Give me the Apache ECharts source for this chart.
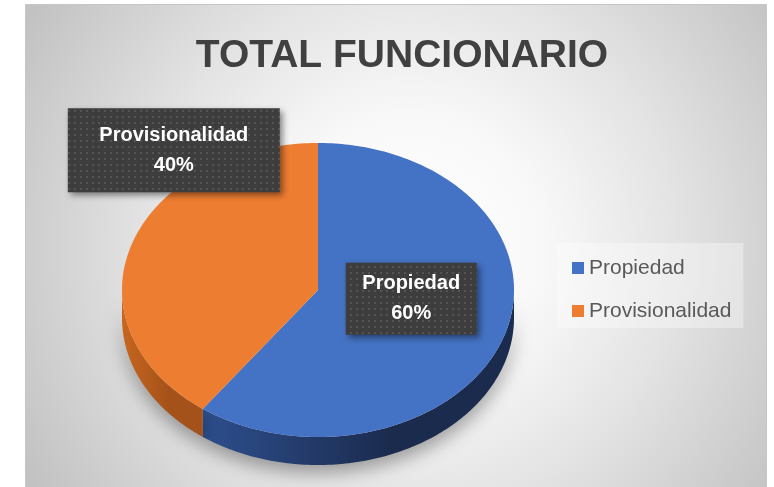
<!DOCTYPE html>
<html>
<head>
<meta charset="utf-8">
<script src="https://cdn.jsdelivr.net/npm/echarts@6/dist/echarts.min.js"></script>
<style>
html, body { margin: 0; padding: 0; background: #fff; }
#chart { width: 774px; height: 487px; }
</style>
</head>
<body>
<div id="chart"></div>
<script>
// datos
const categories = ['Propiedad', 'Provisionalidad'];
const values = [60, 40];

// estilo
const topColors = ['#4472C4', '#ED7D31'];
const sideColors = [['#2d4f8e', '#1b2b4e'], ['#c7661f', '#a4511a']];
const labelOffsets = [[0, -14], [-51, -117]];   // etiquetas movidas como en Excel
const labelBoxes = [[131, 72], [212, 84]];
const PIE = { cx: 318, cy: 290, rx: 196, ry: 147, depth: 28 };

const total = values.reduce((a, b) => a + b, 0);

function sliceAngles(i) {
    const before = values.slice(0, i).reduce((a, b) => a + b, 0);
    const a0 = -90 + before / total * 360;
    return [a0, a0 + values[i] / total * 360];
}

function pt(a, dy, f) {
    const r = a * Math.PI / 180;
    f = f == null ? 1 : f;
    return [PIE.cx + PIE.rx * f * Math.cos(r), PIE.cy + PIE.ry * f * Math.sin(r) + dy];
}

function arc(a0, a1, dy) {
    const n = Math.max(2, Math.ceil(Math.abs(a1 - a0)));
    const pts = [];
    for (let k = 0; k <= n; k++) pts.push(pt(a0 + (a1 - a0) * k / n, dy));
    return pts;
}

// patron punteado de las etiquetas
const pat = document.createElement('canvas');
pat.width = 6; pat.height = 6;
const pctx = pat.getContext('2d');
pctx.fillStyle = '#3d3d3d';
pctx.fillRect(0, 0, 6, 6);
pctx.fillStyle = '#545454';
pctx.fillRect(2, 2, 2, 2);

function renderSlice(i) {
    return function (params, api) {
        const [a0, a1] = sliceAngles(i);
        const kids = [];
        // lateral (solo la parte de delante)
        const s0 = Math.max(a0, 0), s1 = Math.min(a1, 180);
        if (s1 > s0) {
            const pts = arc(s0, s1, 0).concat(arc(s1, s0, PIE.depth));
            kids.push({
                type: 'polygon',
                z2: 1,
                shape: { points: pts },
                style: {
                    fill: {
                        type: 'linear', x: 0, y: 0, x2: 1, y2: 0,
                        colorStops: [
                            { offset: 0, color: sideColors[i][0] },
                            { offset: 0.6, color: sideColors[i][1] },
                            { offset: 1, color: sideColors[i][1] }
                        ]
                    },
                    shadowBlur: 18,
                    shadowOffsetY: 8,
                    shadowColor: 'rgba(0,0,0,0.35)'
                }
            });
        }
        // cara de arriba
        kids.push({
            type: 'polygon',
            z2: 10,
            shape: { points: [[PIE.cx, PIE.cy]].concat(arc(a0, a1, 0)) },
            style: { fill: topColors[i] }
        });
        // etiqueta
        const anchor = pt((a0 + a1) / 2, 0, 0.5);
        const lx = anchor[0] + labelOffsets[i][0];
        const ly = anchor[1] + labelOffsets[i][1];
        const w = labelBoxes[i][0], h = labelBoxes[i][1];
        kids.push({
            type: 'rect',
            z2: 20,
            shape: { x: lx - w / 2, y: ly - h / 2, width: w, height: h },
            style: {
                fill: { image: pat, repeat: 'repeat' },
                shadowBlur: 6,
                shadowOffsetX: 3,
                shadowOffsetY: 3,
                shadowColor: 'rgba(0,0,0,0.45)'
            }
        });
        kids.push({
            type: 'text',
            z2: 21,
            style: {
                text: categories[i] + '\n' + Math.round(values[i] / total * 100) + '%',
                x: lx,
                y: ly,
                align: 'center',
                verticalAlign: 'middle',
                fill: '#ffffff',
                font: 'bold 20px "Liberation Sans"',
                lineHeight: 30
            }
        });
        return { type: 'group', children: kids };
    };
}

const chart = echarts.init(document.getElementById('chart'));

const option = {
    animation: false,
    backgroundColor: '#ffffff',
    graphic: [{
        type: 'rect',
        silent: true,
        z: -1,
        shape: { x: 25.5, y: 4.5, width: 741, height: 483 },
        style: {
            fill: {
                type: 'radial', x: 0.52, y: 0.5, r: 0.92,
                colorStops: [
                    { offset: 0, color: '#ffffff' },
                    { offset: 0.3, color: '#f8f8f8' },
                    { offset: 0.6, color: '#e3e3e3' },
                    { offset: 1, color: '#c2c2c2' }
                ]
            },
            stroke: '#c6c6c6',
            lineWidth: 1
        }
    }],
    title: {
        text: 'TOTAL FUNCIONARIO',
        left: 397,
        top: 28,
        textAlign: 'center',
        textStyle: {
            fontSize: 39,
            fontWeight: 'bold',
            color: '#404040',
            fontFamily: 'Liberation Sans',
            lineHeight: 46
        }
    },
    legend: {
        orient: 'vertical',
        left: 557,
        top: 243,
        padding: [14, 12, 6, 15],
        itemGap: 21,
        itemWidth: 12,
        itemHeight: 12,
        icon: 'rect',
        backgroundColor: 'rgba(255,255,255,0.35)',
        data: categories,
        textStyle: {
            fontSize: 21,
            lineHeight: 22,
            color: '#595959',
            fontFamily: 'Liberation Sans'
        }
    },
    series: categories.map((name, i) => ({
        type: 'custom',
        name: name,
        coordinateSystem: 'none',
        itemStyle: { color: topColors[i] },
        data: [values[i]],
        renderItem: renderSlice(i)
    }))
};

chart.setOption(option);
</script>
</body>
</html>
